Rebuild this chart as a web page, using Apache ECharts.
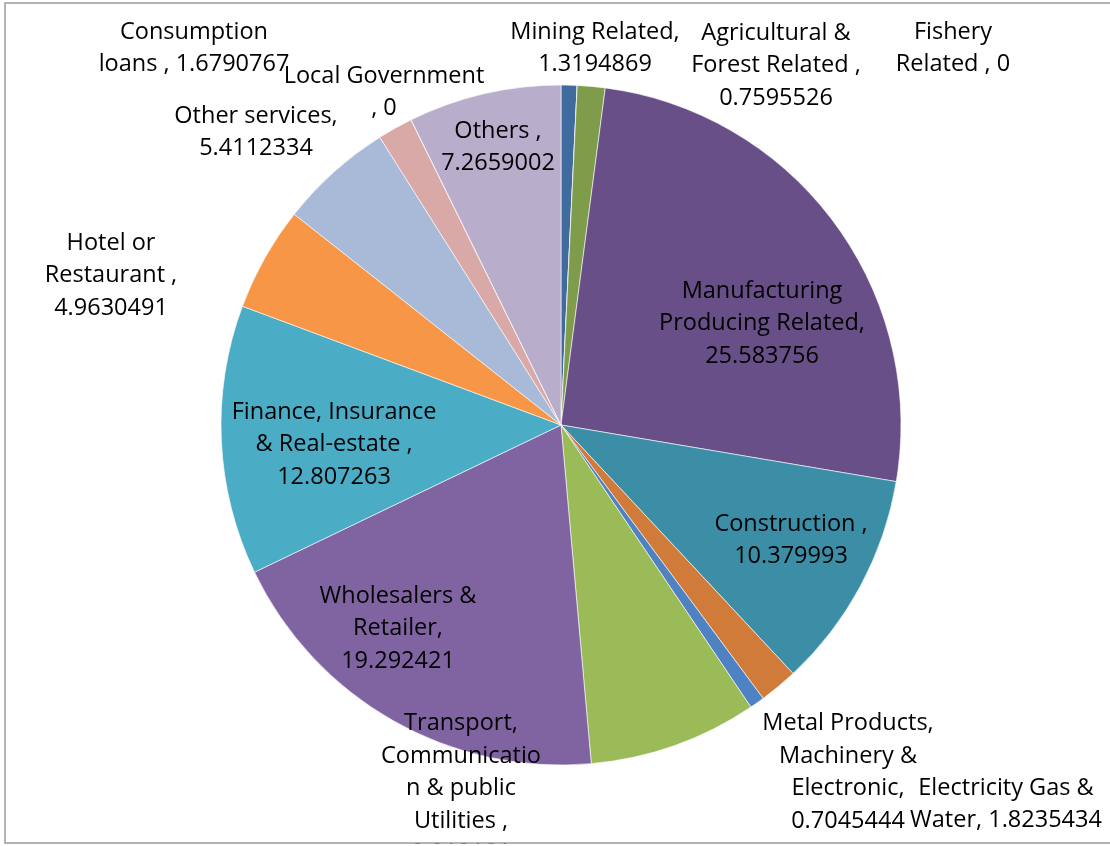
<!DOCTYPE html>
<html>
<head>
<meta charset="utf-8">
<script src="https://cdn.jsdelivr.net/npm/echarts@6/dist/echarts.min.js"></script>
<style>
  html, body { margin: 0; padding: 0; background: #ffffff; }
  #chart { width: 1110px; height: 846px; }
</style>
</head>
<body>
<div id="chart"></div>
<script>
// Loan shares by sector (%), in drawing order clockwise from 12 o'clock.
// Line breaks inside names follow the wrapped data labels.
const categories = [
  'Agricultural &\nForest Related ',
  'Fishery\nRelated ',
  'Mining Related',
  'Manufacturing\nProducing Related',
  'Construction ',
  'Electricity Gas &\nWater',
  'Metal Products,\nMachinery &\nElectronic',
  'Transport,\nCommunicatio\nn & public\nUtilities ',
  'Wholesalers &\nRetailer',
  'Finance, Insurance\n& Real-estate ',
  'Hotel or\nRestaurant ',
  'Other services',
  'Consumption\nloans ',
  'Local Government',
  'Others '
];
const values = [
  0.7595526, 0, 1.3194869, 25.583756, 10.379993, 1.8235434, 0.7045444,
  8.010181, 19.292421, 12.807263, 4.9630491, 5.4112334, 1.6790767, 0, 7.2659002
];
// Text between category and value in each label
const separators = [
  ',\n', ', ', ',\n', ',\n', ',\n', ', ', ',\n',
  ',\n', ',\n', ',\n', ',\n', ',\n', ', ', '\n, ', ',\n'
];
const sliceColors = [
  '#3F6B9E', '#9C4341', '#7E9C4A', '#684F87', '#3B8EA5', '#D07B3A', '#4F82C2',
  '#9BBB59', '#8064A2', '#4BACC6', '#F79646', '#A9BAD8', '#D9A9A8', '#C3D69B', '#B8AECB'
];
// Label block centres (x, y)
const labelAnchors = [
  [776, 65.5], [953, 48.5], [595, 48.5], [762, 323.5], [791, 540.5], [1006, 804.5], [848, 772.5],
  [461, 788.5], [398, 628.5], [334, 444.5], [111, 275.5], [256, 132.5], [194, 48.5], [384, 92.5], [498, 147.5]
];

const chart = echarts.init(document.getElementById('chart'), null, { renderer: 'canvas' });

chart.setOption({
  backgroundColor: '#ffffff',
  animation: false,
  graphic: [
    {
      type: 'rect', z: 100, silent: true,
      shape: { x: 0, y: 844, width: 1110, height: 4 },
      style: { fill: '#ffffff' }
    },
    {
      type: 'rect', z: 101, silent: true,
      shape: { x: 5, y: 3, width: 1120, height: 840 },
      style: { fill: 'none', stroke: '#9a9a9a', lineWidth: 1.5 }
    }
  ],
  series: [{
    type: 'pie',
    center: [561, 425],
    radius: 340,
    startAngle: 90,
    clockwise: true,
    avoidLabelOverlap: false,
    minShowLabelAngle: 0,
    itemStyle: { borderColor: '#ffffff', borderWidth: 0.6 },
    label: {
      show: true,
      position: 'inside',
      color: '#000000',
      fontFamily: '"Open Sans", "Noto Sans", sans-serif',
      fontSize: 23.5,
      lineHeight: 32.5,
      align: 'center',
      formatter: p => categories[p.dataIndex] + separators[p.dataIndex] + values[p.dataIndex]
    },
    labelLine: { show: false },
    labelLayout: p => ({
      x: labelAnchors[p.dataIndex][0],
      y: labelAnchors[p.dataIndex][1],
      align: 'center',
      verticalAlign: 'middle'
    }),
    emphasis: { disabled: true },
    data: values.map((v, i) => ({
      name: categories[i],
      value: v,
      itemStyle: { color: sliceColors[i] }
    }))
  }]
});
</script>
</body>
</html>
